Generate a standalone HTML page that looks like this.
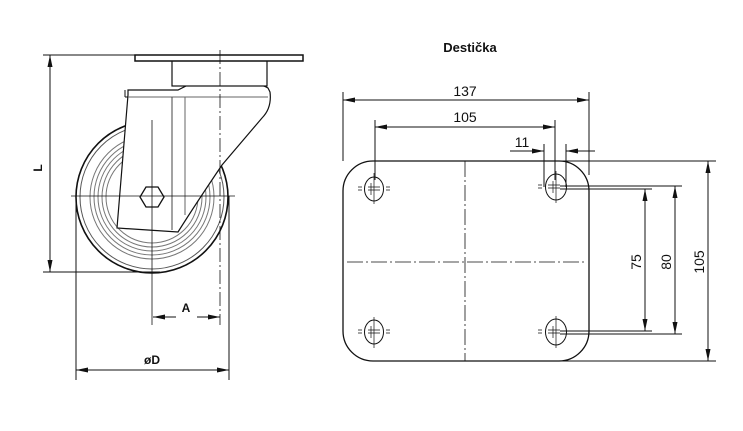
<!DOCTYPE html>
<html><head><meta charset="utf-8"><style>
html,body{margin:0;padding:0;background:#fff;}
svg{display:block;}
text{font-family:"Liberation Sans",sans-serif;fill:#111;}
</style></head><body>
<svg width="743" height="431" viewBox="0 0 743 431" xmlns="http://www.w3.org/2000/svg">
<defs>
<marker id="ar" markerWidth="12" markerHeight="6" refX="12" refY="3" orient="auto-start-reverse" markerUnits="userSpaceOnUse">
<path d="M0,0.5 L12,3 L0,5.5 z" fill="#111"/></marker>
</defs>
<g stroke="#111" fill="none" stroke-width="1">
<!-- caster: wheel -->
<circle cx="152" cy="197" r="76" stroke-width="1.6"/>
<circle cx="152" cy="197" r="72" stroke="#555"/>
<circle cx="152" cy="197" r="62" stroke="#777"/>
<circle cx="152" cy="197" r="58" stroke="#777"/>
<circle cx="152" cy="197" r="54" stroke="#777"/>
<circle cx="152" cy="197" r="50" stroke="#777"/>
<circle cx="152" cy="197" r="46" stroke="#777"/>
<!-- fork -->
<path d="M128,95 L117,228 L178,232 Q195,205 222,165 L262,118 Q272,108 270,92 L268,88 Q262,84 250,84 L190,84 L178,90 L128,90 Z" fill="#fff" stroke-width="1.2"/>
<line x1="125" y1="90" x2="125" y2="97"/>
<line x1="125" y1="97" x2="132" y2="97"/>
<line x1="128" y1="97" x2="268" y2="97" stroke="#666"/>
<line x1="172" y1="97" x2="172" y2="230" stroke="#444"/>
<line x1="185" y1="97" x2="185" y2="215" stroke="#666"/>
<!-- column & top plate -->
<rect x="172" y="60" width="95" height="26" fill="#fff" stroke-width="1.2"/>
<rect x="135" y="55" width="168" height="6" fill="#fff" stroke-width="1.5"/>
<!-- hex -->
<polygon points="164,197 158,207 146,207 140,197 146,187 158,187" fill="#fff" stroke-width="1.3"/>
<!-- center lines -->
<line x1="71" y1="196" x2="235" y2="196" stroke-width="0.8"/>
<line x1="152" y1="120" x2="152" y2="325" stroke-width="0.8"/>
<line x1="220" y1="50" x2="220" y2="325" stroke-width="0.8" stroke-dasharray="14,3,2,3"/>
<!-- L dim -->
<line x1="43" y1="55" x2="135" y2="55"/>
<line x1="43" y1="272" x2="160" y2="272"/>
<line x1="50" y1="55" x2="50" y2="272" marker-start="url(#ar)" marker-end="url(#ar)"/>
<!-- A dim -->
<line x1="153" y1="317" x2="176" y2="317" marker-start="url(#ar)"/>
<line x1="197" y1="317" x2="220" y2="317" marker-end="url(#ar)"/>
<!-- øD -->
<line x1="76" y1="196" x2="76" y2="380"/>
<line x1="229" y1="196" x2="229" y2="380"/>
<line x1="76" y1="370" x2="229" y2="370" marker-start="url(#ar)" marker-end="url(#ar)"/>

<!-- plate -->
<rect x="343" y="161" width="246" height="200" rx="30" ry="30" stroke-width="1.3"/>
<line x1="465" y1="161" x2="465" y2="361" stroke-width="0.8" stroke-dasharray="16,3,2,3"/>
<line x1="347" y1="262" x2="587" y2="262" stroke-width="0.8" stroke-dasharray="16,3,2,3"/>
<g stroke-width="1">
<ellipse cx="374" cy="189" rx="9.5" ry="12"/>
<ellipse cx="556" cy="187" rx="10.5" ry="13"/>
<ellipse cx="374" cy="332" rx="9.5" ry="12"/>
<ellipse cx="556" cy="332" rx="10.5" ry="13"/>
</g>
<g stroke-width="0.7">
<path d="M358,187h4 M358,190h4 M386,187h4 M386,190h4 M374,173v31 M368,187h12 M368,190h12 M371,183v12"/>
<path d="M358,330h4 M358,333h4 M386,330h4 M386,333h4 M374,317v31 M368,330h12 M368,333h12 M371,326v12"/>
<path d="M538,185h4 M538,188h4 M556,171v32 M548,185h12 M548,188h12 M553,181v12"/>
<path d="M538,330h4 M538,333h4 M556,316v32 M548,330h12 M548,333h12 M553,326v12"/>
</g>
<!-- plate dims -->
<line x1="343" y1="92" x2="343" y2="161"/>
<line x1="589" y1="92" x2="589" y2="175"/>
<line x1="343" y1="100" x2="589" y2="100" marker-start="url(#ar)" marker-end="url(#ar)"/>
<line x1="375" y1="120" x2="375" y2="180"/>
<line x1="555" y1="120" x2="555" y2="180"/>
<line x1="375" y1="127" x2="555" y2="127" marker-start="url(#ar)" marker-end="url(#ar)"/>
<line x1="544" y1="144" x2="544" y2="187"/>
<line x1="566" y1="144" x2="566" y2="187"/>
<line x1="510" y1="151" x2="544" y2="151" marker-end="url(#ar)"/>
<line x1="566" y1="151" x2="595" y2="151" marker-start="url(#ar)"/>
<line x1="560" y1="161" x2="716" y2="161"/>
<line x1="560" y1="361" x2="716" y2="361"/>
<line x1="560" y1="186" x2="682" y2="186"/>
<line x1="560" y1="189" x2="652" y2="189"/>
<line x1="560" y1="331" x2="652" y2="331"/>
<line x1="560" y1="334" x2="682" y2="334"/>
<line x1="645" y1="189" x2="645" y2="331" marker-start="url(#ar)" marker-end="url(#ar)"/>
<line x1="675" y1="186" x2="675" y2="334" marker-start="url(#ar)" marker-end="url(#ar)"/>
<line x1="708" y1="161" x2="708" y2="361" marker-start="url(#ar)" marker-end="url(#ar)"/>
</g>
<g font-size="14">
<text x="465" y="96" text-anchor="middle">137</text>
<text x="465" y="122" text-anchor="middle">105</text>
<text x="522" y="147" text-anchor="middle">11</text>
<text transform="translate(641,262) rotate(-90)" text-anchor="middle">75</text>
<text transform="translate(671,262) rotate(-90)" text-anchor="middle">80</text>
<text transform="translate(704,262) rotate(-90)" text-anchor="middle">105</text>
</g>
<g font-size="12" font-weight="bold">
<text x="470" y="52" text-anchor="middle" font-size="13">Destička</text>
<text transform="translate(42,168) rotate(-90)" text-anchor="middle">L</text>
<text x="186" y="312" text-anchor="middle">A</text>
<text x="152" y="364" text-anchor="middle">øD</text>
</g>
</svg>
</body></html>
